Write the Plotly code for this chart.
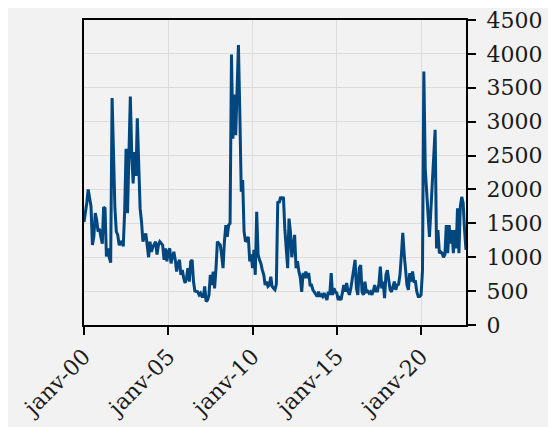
import pandas as pd
import plotly.graph_objects as go

start_month = "2000-01-01"
values = [
    1520, 1650, 1800, 2000, 1850, 1750, 1180, 1300, 1650, 1550,
    1380, 1420, 1300, 1200, 1740, 1720, 1010, 1130, 1000, 920,
    3350, 2300, 1720, 1380, 1330, 1180, 1200, 1240, 1160, 1700,
    2600, 1650, 2700, 3370, 2500, 2090, 2550, 2200, 3050, 2400,
    1720, 1520, 1230, 1300, 1350, 1180, 1000, 1230, 1080, 1150,
    1180, 1230, 1040, 1180, 1230, 1200, 1180, 960, 1130, 940,
    1080, 1130, 910, 1010, 1080, 960, 790, 910, 960, 740,
    810, 690, 620, 700, 838, 640, 935, 960, 640, 500,
    490, 490, 445, 470, 420, 420, 570, 345, 370, 440,
    740, 590, 787, 540, 838, 1230, 1200, 1180, 1040, 838,
    1230, 1475, 1300, 1475, 1500, 3990, 2750, 3400, 2800, 3500,
    4130, 3100, 1966, 2140, 1380, 1230, 1250, 1300, 940, 1040,
    838, 1110, 740, 1672, 1040, 960, 910, 810, 740, 590,
    640, 570, 590, 713, 570, 540, 520, 600, 1820, 1800,
    1890, 1850, 1890, 1425, 1130, 838, 1570, 1376, 1000, 1200,
    1330, 840, 940, 790, 700, 490, 770, 690, 790, 690,
    770, 590, 590, 520, 480, 445, 420, 490, 420, 445,
    420, 470, 420, 370, 490, 445, 765, 445, 540, 490,
    470, 370, 400, 370, 470, 590, 490, 620, 500, 445,
    540, 690, 850, 960, 540, 445, 838, 885, 490, 445,
    640, 490, 500, 470, 490, 445, 500, 590, 500, 500,
    600, 860, 540, 640, 395, 740, 810, 640, 520, 490,
    590, 640, 520, 590, 600, 740, 1040, 1360, 1040, 840,
    590, 520, 765, 640, 790, 640, 640, 490, 420, 420,
    445, 800, 3740, 2300, 2000, 1700, 1300, 1700, 2150, 2600,
    2880, 1130, 1400, 1060, 1080, 1060, 1000, 1040, 1475, 1060,
    1475, 1200, 1400, 1060, 1400, 1130, 1720, 1060, 1750, 1890,
    1800, 1400, 1110,
]
dates = pd.date_range(start_month, periods=len(values), freq="MS")

tick_dates = ["2000-01-01", "2005-01-01", "2010-01-01", "2015-01-01", "2020-01-01"]
tick_labels = ["janv-00", "janv-05", "janv-10", "janv-15", "janv-20"]
y_ticks = [0, 500, 1000, 1500, 2000, 2500, 3000, 3500, 4000, 4500]

fig = go.Figure()
fig.add_trace(go.Scatter(
    x=dates, y=values, mode="lines",
    line=dict(color="#00467F", width=3),
    showlegend=False,
))

font_family = "DejaVu Serif"
fig.update_layout(
    width=548, height=419,
    margin=dict(l=76, r=90, t=12, b=102),
    paper_bgcolor="#f2f2f2", plot_bgcolor="#f2f2f2",
    font=dict(family=font_family, size=22, color="#1a1a1a"),
)
fig.update_xaxes(
    automargin=False,
    range=[dates[0], dates[-1]],
    tickvals=tick_dates, ticktext=tick_labels, tickangle=-45,
    showgrid=True, gridcolor="#dcdcdc", gridwidth=1,
    showline=True, linecolor="black", linewidth=2, mirror=True,
    ticks="outside", ticklen=8, tickwidth=2, tickcolor="black",
    zeroline=False, ticklabeloverflow="allow",
    tickfont=dict(family=font_family, size=22),
)
fig.update_yaxes(
    automargin=False,
    side="right", range=[0, 4500], tickvals=y_ticks,
    showgrid=True, gridcolor="#dcdcdc", gridwidth=1,
    showline=True, linecolor="black", linewidth=2, mirror=True,
    ticks="outside", ticklen=8, tickwidth=2, tickcolor="black",
    zeroline=False, ticklabelstandoff=6, ticklabeloverflow="allow",
    tickfont=dict(family=font_family, size=22),
)
fig.write_html("out.html")
